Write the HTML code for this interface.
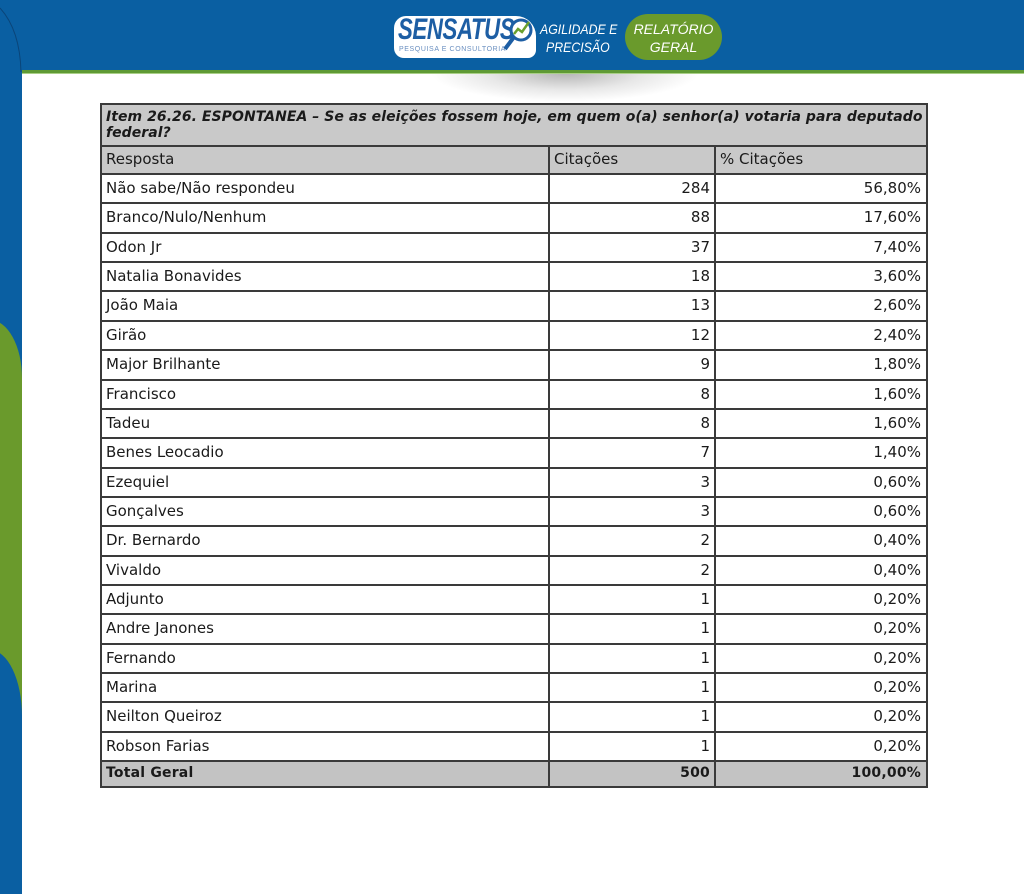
<!DOCTYPE html>
<html>
<head>
<meta charset="utf-8">
<style>
  html,body{margin:0;padding:0;}
  body{width:1024px;height:894px;position:relative;overflow:hidden;background:#fff;font-family:"DejaVu Sans","Liberation Sans",sans-serif;color:#1a1a1a;}
  .abs{position:absolute;}
  .hdr{left:0;top:0;width:1024px;height:71px;background:#0a5fa2;}
  .gl{left:22px;top:70px;width:1002px;height:3px;background:#5f9a35;}
  .gl2{left:22px;top:73px;width:1002px;height:1px;background:#a9cf86;}
  .side{left:0;top:0;width:22px;height:894px;background:#0a5fa2;}
  .shadow{left:430px;top:66px;width:270px;height:36px;background:radial-gradient(ellipse at 50% 20%, rgba(120,120,120,0.55) 0%, rgba(160,160,160,0.25) 40%, rgba(255,255,255,0) 70%);}
  .hl{position:absolute;background:#3a3a3a;height:2px;left:101px;width:826px;}
  .vl{position:absolute;background:#3a3a3a;width:2px;}
  .gray{position:absolute;background:#c9c9c9;left:101px;width:826px;}
  .c{position:absolute;font-size:15px;white-space:nowrap;line-height:29px;}
  .l{left:106px;}
  .n{right:314px;text-align:right;}
  .p{right:103px;text-align:right;}
</style>
</head>
<body>
<!-- header -->
<div class="abs shadow"></div>
<div class="abs hdr"></div>
<div class="abs gl"></div>
<div class="abs gl2"></div>
<!-- sidebar -->
<div class="abs side"></div>
<svg class="abs" style="left:0;top:0" width="24" height="80"><path d="M0,8 Q20,30 21,72" stroke="#0a4579" stroke-width="1" fill="none"/></svg>
<div class="abs" style="left:-10px;top:320px;width:32px;height:574px;background:#6a9a2c;border-top-right-radius:32px 58px;"></div>
<div class="abs" style="left:-10px;top:650px;width:32px;height:244px;background:#0a5fa2;border-top-right-radius:32px 66px;"></div>

<!-- logo -->
<div class="abs" style="left:394px;top:16px;width:142px;height:42px;background:#fff;border-radius:12px 20px 8px 10px;"></div>
<div class="abs" style="left:398px;top:13px;font-family:'Liberation Sans',sans-serif;font-weight:bold;font-style:italic;font-size:30px;color:#1d5ea4;letter-spacing:-0.5px;transform:scaleX(0.74);transform-origin:left top;">SENSATUS</div>
<div class="abs" style="left:399px;top:46px;font-family:'Liberation Sans',sans-serif;font-size:7px;color:#6a8fc0;letter-spacing:0.6px;">PESQUISA E CONSULTORIA</div>
<svg class="abs" style="left:503px;top:13px" width="34" height="42">
  <circle cx="18" cy="17" r="10" fill="#fff" stroke="#1d5ea4" stroke-width="3"/>
  <path d="M11,21 L15,16 L19,19 L26,9" stroke="#6aa02e" stroke-width="2.5" fill="none"/>
  <path d="M11,24 L2,36" stroke="#1d5ea4" stroke-width="4"/>
</svg>
<div class="abs" style="left:540px;top:20px;width:86px;font-family:'Liberation Sans',sans-serif;font-style:italic;font-size:14px;line-height:18px;color:#fff;text-align:center;white-space:nowrap;transform:scaleX(0.88);transform-origin:left top;">AGILIDADE E<br>PRECISÃO</div>
<div class="abs" style="left:625px;top:14px;width:97px;height:46px;background:#6a9a2c;border-radius:23px;"></div>
<div class="abs" style="left:625px;top:20px;width:97px;font-family:'Liberation Sans',sans-serif;font-style:italic;font-size:14px;line-height:18px;color:#fff;text-align:center;white-space:nowrap;">RELATÓRIO<br>GERAL</div>

<!-- table backgrounds -->
<div class="gray" style="top:104px;height:70px;"></div>
<div class="gray" style="top:761px;height:26px;background:#c3c3c3;"></div>

<!-- horizontal lines -->
<div class="hl" style="top:103px;"></div>
<div class="hl" style="top:145px;"></div>
<div class="hl" style="top:173px;"></div>
<div class="hl" style="top:202.4px;"></div>
<div class="hl" style="top:231.7px;"></div>
<div class="hl" style="top:261.1px;"></div>
<div class="hl" style="top:290.4px;"></div>
<div class="hl" style="top:319.8px;"></div>
<div class="hl" style="top:349.1px;"></div>
<div class="hl" style="top:378.5px;"></div>
<div class="hl" style="top:407.8px;"></div>
<div class="hl" style="top:437.2px;"></div>
<div class="hl" style="top:466.5px;"></div>
<div class="hl" style="top:495.9px;"></div>
<div class="hl" style="top:525.2px;"></div>
<div class="hl" style="top:554.6px;"></div>
<div class="hl" style="top:583.9px;"></div>
<div class="hl" style="top:613.3px;"></div>
<div class="hl" style="top:642.6px;"></div>
<div class="hl" style="top:672px;"></div>
<div class="hl" style="top:701.3px;"></div>
<div class="hl" style="top:730.7px;"></div>
<div class="hl" style="top:760px;"></div>
<div class="hl" style="top:786px;"></div>
<!-- vertical lines -->
<div class="vl" style="left:100px;top:103px;height:685px;"></div>
<div class="vl" style="left:926px;top:103px;height:685px;"></div>
<div class="vl" style="left:548px;top:145px;height:643px;"></div>
<div class="vl" style="left:714px;top:145px;height:643px;"></div>

<!-- title -->
<div class="abs" style="left:106px;top:109px;font-size:14px;font-weight:bold;font-style:italic;line-height:16px;white-space:nowrap;letter-spacing:0.05px;">Item 26.26. ESPONTANEA – Se as eleições fossem hoje, em quem o(a) senhor(a) votaria para deputado<br>federal?</div>

<!-- header row -->
<div class="c l" style="top:145px;">Resposta</div>
<div class="c" style="left:554px;top:145px;">Citações</div>
<div class="c" style="left:720px;top:145px;">% Citações</div>

<!-- data rows -->
<div class="c l" style="top:174px;">Não sabe/Não respondeu</div><div class="c n" style="top:174px;">284</div><div class="c p" style="top:174px;">56,80%</div>
<div class="c l" style="top:203.4px;">Branco/Nulo/Nenhum</div><div class="c n" style="top:203.4px;">88</div><div class="c p" style="top:203.4px;">17,60%</div>
<div class="c l" style="top:232.7px;">Odon Jr</div><div class="c n" style="top:232.7px;">37</div><div class="c p" style="top:232.7px;">7,40%</div>
<div class="c l" style="top:262.1px;">Natalia Bonavides</div><div class="c n" style="top:262.1px;">18</div><div class="c p" style="top:262.1px;">3,60%</div>
<div class="c l" style="top:291.4px;">João Maia</div><div class="c n" style="top:291.4px;">13</div><div class="c p" style="top:291.4px;">2,60%</div>
<div class="c l" style="top:320.8px;">Girão</div><div class="c n" style="top:320.8px;">12</div><div class="c p" style="top:320.8px;">2,40%</div>
<div class="c l" style="top:350.1px;">Major Brilhante</div><div class="c n" style="top:350.1px;">9</div><div class="c p" style="top:350.1px;">1,80%</div>
<div class="c l" style="top:379.5px;">Francisco</div><div class="c n" style="top:379.5px;">8</div><div class="c p" style="top:379.5px;">1,60%</div>
<div class="c l" style="top:408.8px;">Tadeu</div><div class="c n" style="top:408.8px;">8</div><div class="c p" style="top:408.8px;">1,60%</div>
<div class="c l" style="top:438.2px;">Benes Leocadio</div><div class="c n" style="top:438.2px;">7</div><div class="c p" style="top:438.2px;">1,40%</div>
<div class="c l" style="top:467.5px;">Ezequiel</div><div class="c n" style="top:467.5px;">3</div><div class="c p" style="top:467.5px;">0,60%</div>
<div class="c l" style="top:496.9px;">Gonçalves</div><div class="c n" style="top:496.9px;">3</div><div class="c p" style="top:496.9px;">0,60%</div>
<div class="c l" style="top:526.2px;">Dr. Bernardo</div><div class="c n" style="top:526.2px;">2</div><div class="c p" style="top:526.2px;">0,40%</div>
<div class="c l" style="top:555.6px;">Vivaldo</div><div class="c n" style="top:555.6px;">2</div><div class="c p" style="top:555.6px;">0,40%</div>
<div class="c l" style="top:584.9px;">Adjunto</div><div class="c n" style="top:584.9px;">1</div><div class="c p" style="top:584.9px;">0,20%</div>
<div class="c l" style="top:614.3px;">Andre Janones</div><div class="c n" style="top:614.3px;">1</div><div class="c p" style="top:614.3px;">0,20%</div>
<div class="c l" style="top:643.6px;">Fernando</div><div class="c n" style="top:643.6px;">1</div><div class="c p" style="top:643.6px;">0,20%</div>
<div class="c l" style="top:673px;">Marina</div><div class="c n" style="top:673px;">1</div><div class="c p" style="top:673px;">0,20%</div>
<div class="c l" style="top:702.3px;">Neilton Queiroz</div><div class="c n" style="top:702.3px;">1</div><div class="c p" style="top:702.3px;">0,20%</div>
<div class="c l" style="top:731.7px;">Robson Farias</div><div class="c n" style="top:731.7px;">1</div><div class="c p" style="top:731.7px;">0,20%</div>
<div class="c l" style="top:760px;font-weight:bold;font-size:14px;letter-spacing:0.2px;line-height:27px;">Total Geral</div>
<div class="c n" style="top:760px;font-weight:bold;font-size:14px;letter-spacing:0.2px;line-height:27px;">500</div>
<div class="c p" style="top:760px;font-weight:bold;font-size:14px;letter-spacing:0.2px;line-height:27px;">100,00%</div>
</body>
</html>
